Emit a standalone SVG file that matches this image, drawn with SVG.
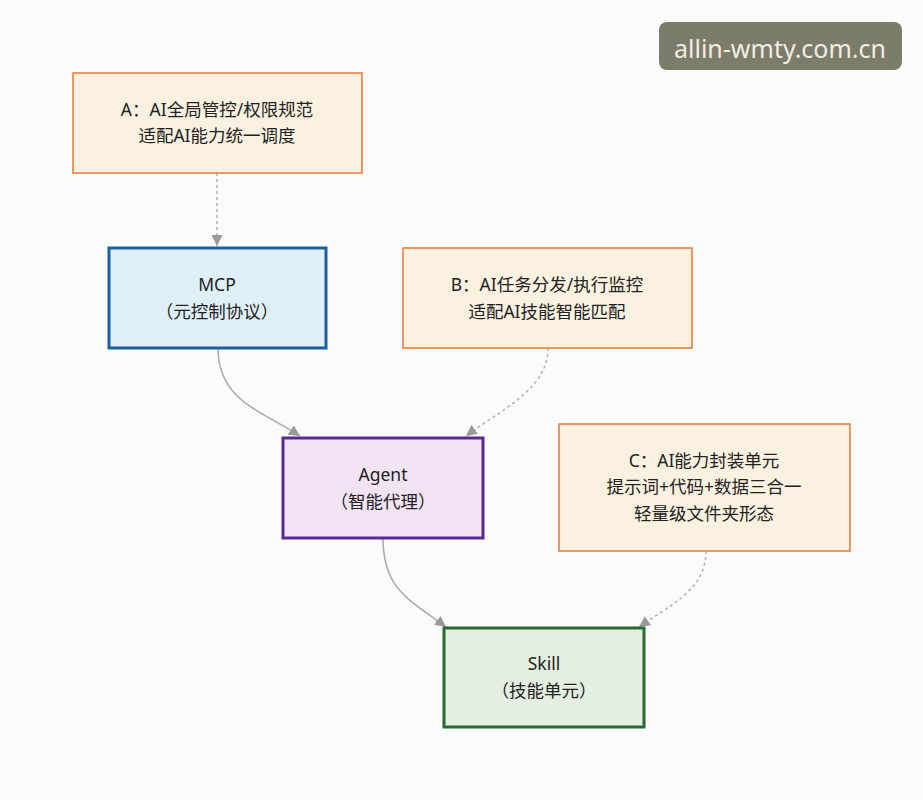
<svg xmlns="http://www.w3.org/2000/svg" width="923" height="800" viewBox="0 0 923 800">
<style>
text{font-family:"Noto Sans","Noto Sans CJK SC",sans-serif;font-size:17.5px;fill:#222;text-anchor:middle}
.note rect{fill:#fbf1e1;stroke:#e8773a;stroke-width:1.5}
.c{fill:none;stroke:#a8a8a8;stroke-width:1.5}
.d{fill:none;stroke:#b0b0b0;stroke-width:1.5;stroke-dasharray:3 3}
</style>
<defs><marker id="ah" viewBox="0 0 10 10" refX="10" refY="5" markerWidth="11" markerHeight="11" markerUnits="userSpaceOnUse" orient="auto"><path d="M0,0L10,5L0,10z" fill="#999"/></marker></defs>
<rect width="923" height="800" fill="#f9fcfa"/>
<g id="connectors">
<path class="d" d="M217,173 L217,246" marker-end="url(#ah)"/>
<path class="c" d="M218,348 C218,400 260,410 300,436" marker-end="url(#ah)"/>
<path class="d" d="M548,348 C548,390 500,410 466,436" marker-end="url(#ah)"/>
<path class="c" d="M383,538 C383,590 410,600 446,627" marker-end="url(#ah)"/>
<path class="d" d="M706,551 C706,590 670,605 639,627" marker-end="url(#ah)"/>
</g>
<g id="noteA" class="note"><rect x="73" y="73" width="289" height="100"/><text x="217" y="116">A：AI全局管控/权限规范</text><text x="217" y="142">适配AI能力统一调度</text></g>
<g id="mcp"><rect x="109" y="248" width="217" height="100" fill="#e0f0fb" stroke="#1c5fa0" stroke-width="3"/><text x="217" y="291">MCP</text><text x="217" y="318">（元控制协议）</text></g>
<g id="noteB" class="note"><rect x="403" y="248" width="289" height="100"/><text x="547" y="291">B：AI任务分发/执行监控</text><text x="547" y="318">适配AI技能智能匹配</text></g>
<g id="agent"><rect x="283" y="438" width="200" height="100" fill="#f2e3f5" stroke="#5a2a94" stroke-width="3"/><text x="383" y="481">Agent</text><text x="383" y="508">（智能代理）</text></g>
<g id="noteC" class="note"><rect x="559" y="424" width="291" height="127"/><text x="704" y="467">C：AI能力封装单元</text><text x="704" y="493">提示词+代码+数据三合一</text><text x="704" y="520">轻量级文件夹形态</text></g>
<g id="skill"><rect x="444" y="628" width="200" height="99" fill="#e4efe1" stroke="#2a6a2e" stroke-width="3"/><text x="544" y="670">Skill</text><text x="544" y="697">（技能单元）</text></g>
<g id="watermark"><rect x="659" y="22" width="243" height="48" rx="8" fill="#7b7d6a"/><text x="780" y="58" style="font-size:25px;fill:#f3ece2">allin-wmty.com.cn</text></g>
</svg>
